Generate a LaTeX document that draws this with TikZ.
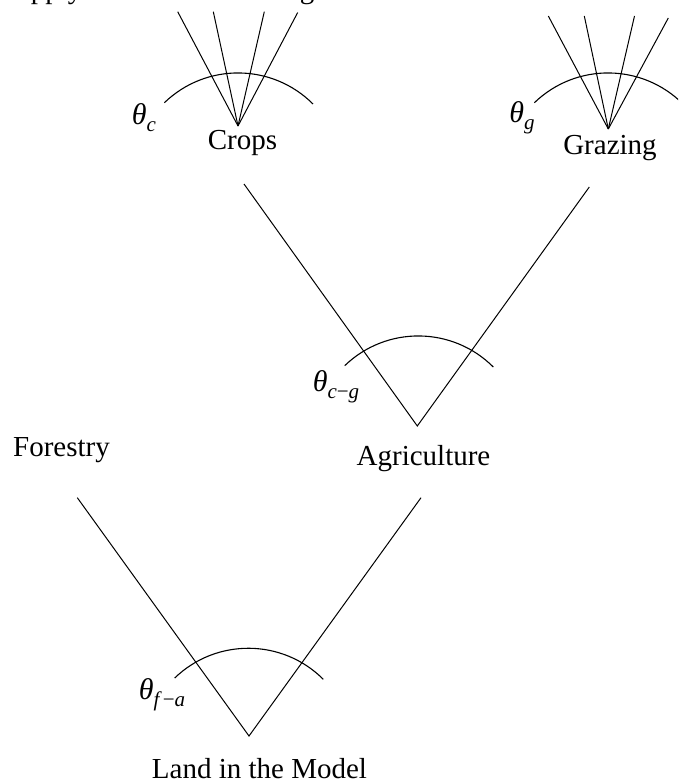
\documentclass[tikz,border=0pt]{standalone}
\usepackage{fontspec}
\setmainfont{Liberation Serif}
\newcommand{\thetalab}[1]{\textit{θ}\raisebox{-7pt}{\fontsize{21}{24}\selectfont #1}}
\begin{document}
\begin{tikzpicture}[x=1pt,y=1pt,
  lbl/.style={font=\fontsize{29}{34}\selectfont, inner sep=0pt},
  mlbl/.style={font=\fontsize{30}{34}\selectfont, inner sep=0pt},
  ln/.style={line width=1pt, black},
  arcln/.style={line width=1.1pt, black}]
\clip (0,0) rectangle (678,-783);
\fill[white] (0,0) rectangle (678,-783);

% cut-off heading at the top edge
\node[lbl, anchor=base west] (head) at (0,1) {Supply Elasticities Nesting};

% vertices
\coordinate (crops) at (238,-126);
\coordinate (grazing) at (608.3,-129);
\coordinate (agri) at (417.3,-426);
\coordinate (land) at (249,-736);

% fan above Crops
\coordinate (c1) at (177.7,-11.7);
\coordinate (c2) at (213.3,-11.7);
\coordinate (c3) at (264.3,-11.7);
\coordinate (c4) at (297.7,-12.5);
\foreach \t in {c1,c2,c3,c4} \draw[ln] (\t) -- (crops);

% fan above Grazing
\coordinate (g1) at (548.3,-16);
\coordinate (g2) at (584.3,-16);
\coordinate (g3) at (634.5,-16);
\coordinate (g4) at (668.3,-18);
\foreach \t in {g1,g2,g3,g4} \draw[ln] (\t) -- (grazing);

% V for Agriculture
\coordinate (a1) at (244,-184);
\coordinate (a2) at (589.3,-187);
\draw[ln] (a1) -- (agri) -- (a2);

% V for Land
\coordinate (l1) at (77.3,-497.7);
\coordinate (l2) at (421,-497.7);
\draw[ln] (l1) -- (land) -- (l2);

% arcs
\coordinate (arcC) at (164.4,-102.7);
\coordinate (arcG) at (534.4,-102.7);
\coordinate (arcA) at (344.7,-365.7);
\coordinate (arcL) at (174.7,-678);
\foreach \s in {arcC,arcG,arcA,arcL}
  \draw[arcln] (\s) arc[start angle=134, end angle=45, radius=106];

% labels
\node[lbl, anchor=base] (cropsL) at (242.5,-150) {Crops};
\node[lbl, anchor=base] (grazingL) at (610,-155) {Grazing};
\node[lbl, anchor=base] (agriL) at (423.5,-465) {Agriculture};
\node[lbl, anchor=base] (forestL) at (61.5,-456) {Forestry};
\node[lbl, anchor=base] (landL) at (259.5,-778) {Land in the Model};

\node[mlbl] (thc) at (144,-118) {\thetalab{\textit{c}}};
\node[mlbl] (thg) at (522,-118) {\thetalab{\textit{g}}};
\node[mlbl] (thcg) at (336,-387) {\thetalab{\textit{c}−\textit{g}}};
\node[mlbl] (thfa) at (162,-695) {\thetalab{\textit{f}\kern1pt−\textit{a}}};
\end{tikzpicture}
\end{document}
